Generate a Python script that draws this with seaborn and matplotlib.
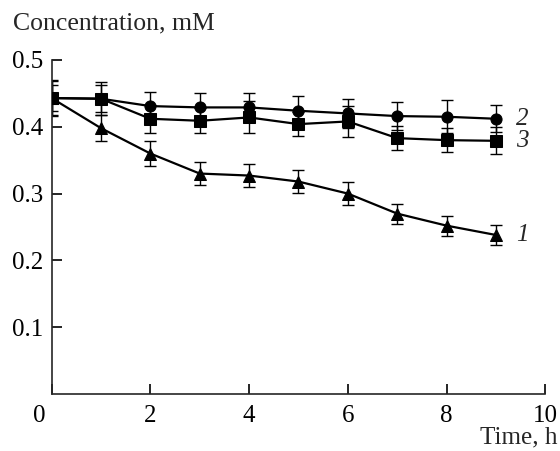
import numpy as np
import pandas as pd
import matplotlib
matplotlib.use('Agg')
import matplotlib.pyplot as plt
import matplotlib.transforms as mtransforms
import seaborn as sns

sns.set_theme(style='ticks')
plt.rcParams['font.family'] = ['Liberation Serif', 'DejaVu Serif']

# 데이터
time_h = [0, 1, 2, 3, 4, 5, 6, 7, 8, 9]
conc_1 = [0.443, 0.398, 0.360, 0.330, 0.327, 0.318, 0.300, 0.270, 0.252, 0.238]
err_1 = [0.027, 0.020, 0.019, 0.017, 0.017, 0.017, 0.017, 0.015, 0.015, 0.015]
conc_2 = [0.443, 0.442, 0.431, 0.429, 0.429, 0.424, 0.420, 0.416, 0.415, 0.412]
err_2 = [0.025, 0.025, 0.021, 0.021, 0.021, 0.022, 0.022, 0.021, 0.025, 0.020]
conc_3 = [0.443, 0.442, 0.412, 0.409, 0.414, 0.404, 0.408, 0.383, 0.380, 0.379]
err_3 = [0.020, 0.020, 0.021, 0.019, 0.024, 0.018, 0.023, 0.018, 0.018, 0.020]
curve_names = ['1', '2', '3']
markers = ['^', 'o', 's']

df = pd.DataFrame({
    'time': time_h * 3,
    'conc': conc_1 + conc_2 + conc_3,
    'err': err_1 + err_2 + err_3,
    'curve': [n for n in curve_names for _ in time_h],
})

fig = plt.figure(figsize=(5.6, 4.51), dpi=100)
ax = fig.add_axes([0.092, 0.1264, 0.882, 0.7406])

for name, mk in zip(curve_names, markers):
    sub = df[df['curve'] == name]
    ax.errorbar(sub['time'], sub['conc'], yerr=sub['err'], fmt='none',
                ecolor='black', elinewidth=1, capsize=4, capthick=1, zorder=2)
    sns.lineplot(data=sub, x='time', y='conc', ax=ax, color='black',
                 marker=mk, markersize=8, markeredgecolor='black',
                 linewidth=1.6, zorder=3)
    ax.text(9.4, sub['conc'].iloc[-1], name, fontsize=18, style='italic',
            ha='left', va='center')

ax.set_xlim(0, 10)
ax.set_ylim(0, 0.5)
ax.set_xticks([0, 2, 4, 6, 8, 10])
ax.set_yticks([0.1, 0.2, 0.3, 0.4, 0.5])
ax.set_yticklabels(['0.1', '0.2', '0.3', '0.4', '0.5'])
ax.set_xlabel('')
ax.set_ylabel('')
sns.despine(ax=ax)
for s in ['left', 'bottom']:
    ax.spines[s].set_linewidth(1.2)
ax.tick_params(axis='both', direction='in', length=7, width=1.2,
               labelsize=18, colors='black')
ax.tick_params(axis='x', pad=8)
ax.tick_params(axis='y', pad=6)

# 원점의 0 라벨을 왼쪽으로 이동
shift = mtransforms.ScaledTranslation(-12 / 100, 0, fig.dpi_scale_trans)
lbl0 = ax.get_xticklabels()[0]
lbl0.set_transform(lbl0.get_transform() + shift)

fig.text(0.023, 0.948, 'Concentration, mM', fontsize=18.5, ha='left', va='center')
fig.text(0.996, 0.017, 'Time, h', fontsize=18, ha='right', va='baseline')

plt.savefig('out.png', dpi=100)
